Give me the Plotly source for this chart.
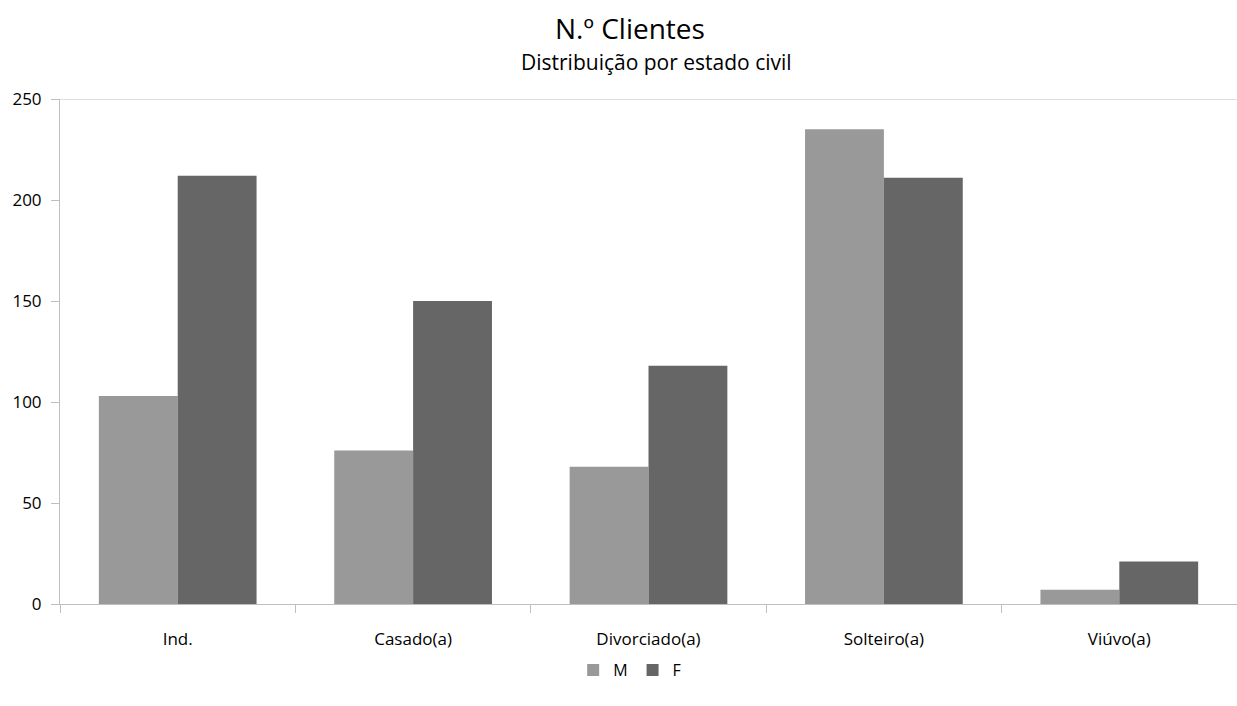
import plotly.graph_objects as go

categories = ["Ind.", "Casado(a)", "Divorciado(a)", "Solteiro(a)", "Viúvo(a)"]
masculino = [103, 76, 68, 235, 7]
feminino = [212, 150, 118, 211, 21]
y_ticks = [0, 50, 100, 150, 200, 250]

FONT = "Open Sans"
AXIS_GREY = "#bfbfbf"

W, H = 1237, 706
M_TOP, M_BOT = 99, 102

fig = go.Figure()
fig.add_trace(go.Bar(name="M", x=categories, y=masculino, marker=dict(color="#999999", line=dict(width=0))))
fig.add_trace(go.Bar(name="F", x=categories, y=feminino, marker=dict(color="#666666", line=dict(width=0))))

fig.update_layout(
    width=W, height=H,
    margin=dict(l=60, r=0, t=M_TOP, b=M_BOT, autoexpand=False),
    paper_bgcolor="white", plot_bgcolor="white",
    barmode="group", bargap=0.33, bargroupgap=0,
    font=dict(family=FONT, size=16, color="#000000"),
    showlegend=True,
    legend=dict(orientation="h", x=0.484, xanchor="center", yref="container",
                y=(H - 670) / H, yanchor="middle",
                font=dict(size=16), itemwidth=30, traceorder="normal"),
    xaxis=dict(type="category", showgrid=False, showline=True, linecolor=AXIS_GREY, linewidth=1,
               ticks="outside", tickson="boundaries", ticklen=8, tickcolor=AXIS_GREY,
               ticklabelstandoff=20, tickfont=dict(size=17), automargin=False),
    yaxis=dict(range=[0, 250], tickvals=y_ticks, showgrid=False, zeroline=False,
               showline=True, linecolor=AXIS_GREY, linewidth=1,
               ticks="outside", ticklen=8, tickcolor=AXIS_GREY, tickfont=dict(size=17),
               ticklabelstandoff=6, automargin=False),
)

# Chart title and subtitle, placed by pixel position on the page
plot_h = H - M_TOP - M_BOT
plot_w = W - 60
for text, x_px, y_px, size in [("N.º Clientes", 630, 28, 28),
                               ("Distribuição por estado civil", 656, 62, 21)]:
    fig.add_annotation(text=text, x=(x_px - 60) / plot_w, xref="paper", yref="paper",
                       xanchor="center", y=1 + (M_TOP - y_px) / plot_h, yanchor="middle",
                       showarrow=False, font=dict(size=size, family=FONT))

# Top border line at the axis maximum
fig.add_shape(type="line", xref="paper", yref="y", x0=0, x1=1, y0=250, y1=250,
              line=dict(color=AXIS_GREY, width=1))

fig.write_html("out.html")
